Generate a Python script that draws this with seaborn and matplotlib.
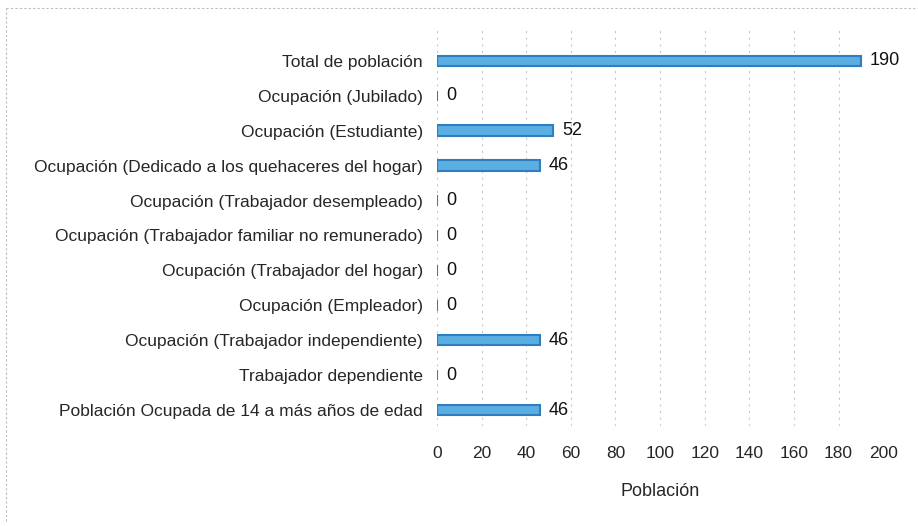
import matplotlib
matplotlib.use("Agg")
import matplotlib.pyplot as plt
from matplotlib.lines import Line2D
import seaborn as sns
import pandas as pd

categorias = [
    "Total de población",
    "Ocupación (Jubilado)",
    "Ocupación (Estudiante)",
    "Ocupación (Dedicado a los quehaceres del hogar)",
    "Ocupación (Trabajador desempleado)",
    "Ocupación (Trabajador familiar no remunerado)",
    "Ocupación (Trabajador del hogar)",
    "Ocupación (Empleador)",
    "Ocupación (Trabajador independiente)",
    "Trabajador dependiente",
    "Población Ocupada de 14 a más años de edad",
]
valores = [190, 0, 52, 46, 0, 0, 0, 0, 46, 0, 46]
ticks_x = [0, 20, 40, 60, 80, 100, 120, 140, 160, 180, 200]

df = pd.DataFrame({"categoria": categorias, "valor": valores})

sns.set_theme(style="white")
plt.rcParams["font.family"] = ["Liberation Sans Narrow", "Liberation Sans", "DejaVu Sans"]

fig = plt.figure(figsize=(9.18, 5.26), dpi=100)
ax = fig.add_axes([0.476, 0.19, 0.486, 0.757])

sns.barplot(
    data=df,
    x="valor",
    y="categoria",
    orient="h",
    color="#5aaee2",
    edgecolor="#2f7fc0",
    linewidth=1.5,
    width=0.3,
    saturation=1,
    ax=ax,
)

for i, v in enumerate(valores):
    ax.text(v + 4, i, str(v), va="center", ha="left", fontsize=13, color="#111111")

ax.set_xlim(0, 200)
ax.set_ylim(10.46, -0.946)
ax.set_xticks(ticks_x)
ax.set_xticklabels([str(t) for t in ticks_x], fontsize=12.5)
ax.tick_params(axis="y", labelsize=12.5, pad=10, length=0)
ax.tick_params(axis="x", pad=14, length=0)
ax.set_xlabel("Población", fontsize=13, labelpad=16)
ax.set_ylabel("")
ax.xaxis.grid(True, linestyle=(0, (2, 4)), color="#c8c8c8", linewidth=0.8)
ax.set_axisbelow(True)
for s in ax.spines.values():
    s.set_visible(False)

# borde punteado exterior (solo arriba e izquierda quedan visibles)
estilo = dict(transform=fig.transFigure, linestyle=(0, (2, 2)), color="#bbbbbb", linewidth=0.8)
fig.add_artist(Line2D([0.007, 1.0], [0.985, 0.985], **estilo))
fig.add_artist(Line2D([0.007, 0.007], [0.01, 0.985], **estilo))

fig.savefig("out.png", dpi=100)
